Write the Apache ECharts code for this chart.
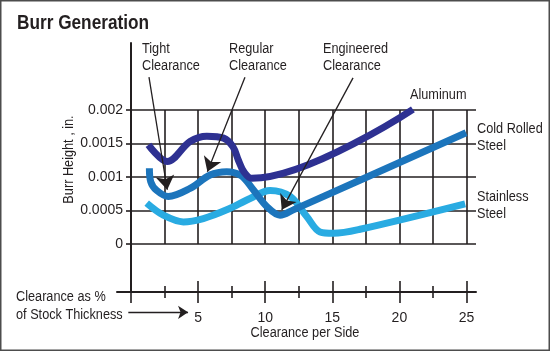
<!DOCTYPE html>
<html>
<head>
<meta charset="utf-8">
<script src="https://cdn.jsdelivr.net/npm/echarts@6/dist/echarts.min.js"></script>
<style>
html, body { margin: 0; padding: 0; background: #fff; }
#main { width: 550px; height: 351px; }
</style>
</head>
<body>
<div id="main"></div>
<script>
// burr height (in.) against clearance per side (% of stock thickness)
var aluminum = [[1.3, 0.00148], [2.7, 0.00123], [4.4, 0.00153], [5.65, 0.00161], [6.9, 0.00158],
    [7.6, 0.00145], [8.0, 0.00125], [8.4, 0.00108], [9.0, 0.00098], [21.0, 0.00201]];
var coldRolled = [[1.37, 0.00113], [1.47, 0.00093], [1.91, 0.0008], [2.78, 0.00071], [4.4, 0.00083],
    [5.89, 0.00103], [7.13, 0.00108], [8.2, 0.00102], [9.11, 0.00081], [10.11, 0.00056],
    [11.1, 0.00043], [12.09, 0.00051], [24.96, 0.00166]];
var stainless = [[1.17, 0.00061], [2.41, 0.00043], [3.9, 0.00033], [5.39, 0.00038], [7.13, 0.00051],
    [8.87, 0.00068], [10.36, 0.0008], [11.85, 0.00071], [13.09, 0.00041], [14.08, 0.00018],
    [15.07, 0.00016], [17.06, 0.00022], [24.89, 0.0006]];

var yTicks = [0, 0.0005, 0.001, 0.0015, 0.002];
var xTicks = [5, 10, 15, 20, 25];

// pointer arrows, in data units
var arrows = [
    { from: [1.34, 0.00249], to: [2.7, 0.00081], size: 14 },   // tight
    { from: [8.49, 0.00249], to: [5.69, 0.00108], size: 14 },  // regular
    { from: [16.54, 0.00248], to: [11.23, 0.00051], size: 14 }, // engineered
    { from: [-0.2, -0.00102], to: [4.25, -0.00102], size: 10 }  // stock thickness
];

var ink = '#231f20';
var font = "'Liberation Sans', Arial, sans-serif";
var squeeze = 0.82; // condensed look

function txt(text, x, y, size, extra) {
    extra = extra || {};
    var el = {
        type: 'text', x: x, y: y, silent: true, scaleX: squeeze,
        style: { text: text, font: (extra.bold ? 'bold ' : '') + size + 'px ' + font, fill: ink,
            verticalAlign: 'middle', textVerticalAlign: 'middle', lineHeight: 17.5,
            align: extra.align || 'left', textAlign: extra.align || 'left' }
    };
    if (extra.rotation) el.rotation = extra.rotation;
    return el;
}

var myChart = echarts.init(document.getElementById('main'));

var option = {
    animation: false,
    grid: [
        { left: 131, top: 110, width: 345, height: 134 },   // plot
        { left: 131, top: 43, width: 335.5, height: 249 },  // frame
        { left: 117, top: 43, width: 359, height: 249 }     // x axis line
    ],
    xAxis: [
        { gridIndex: 0, type: 'value', min: 0, max: 25.7, interval: 2.5,
            axisLine: { show: false }, axisTick: { show: false }, axisLabel: { show: false },
            splitLine: { show: true, showMaxLine: false, lineStyle: { color: ink, width: 1.6 } } },
        { gridIndex: 1, type: 'value', position: 'bottom', min: 0, max: 25, interval: 5,
            axisLine: { show: false },
            axisTick: { show: true, length: 11, inside: false, lineStyle: { color: ink, width: 1.6 } },
            minorTick: { show: true, splitNumber: 2, length: 6, lineStyle: { color: ink, width: 1.6 } },
            axisLabel: { show: true, margin: 19, color: ink, fontSize: 14, fontFamily: font,
                formatter: function (v) { return xTicks.indexOf(v) >= 0 ? String(v) : ''; } },
            splitLine: { show: false } },
        { gridIndex: 1, type: 'value', position: 'bottom', min: 0, max: 25, interval: 5,
            axisLine: { show: false },
            axisTick: { show: true, length: 11, inside: true, lineStyle: { color: ink, width: 1.6 } },
            minorTick: { show: true, splitNumber: 2, length: 6, lineStyle: { color: ink, width: 1.6 } },
            axisLabel: { show: false }, splitLine: { show: false } },
        { gridIndex: 2, type: 'value', position: 'bottom', min: 0, max: 1,
            axisLine: { show: true, onZero: false, lineStyle: { color: ink, width: 2 } },
            axisTick: { show: false }, axisLabel: { show: false }, splitLine: { show: false } }
    ],
    yAxis: [
        { gridIndex: 0, type: 'value', min: 0, max: 0.002, interval: 0.0005,
            axisLine: { show: false },
            axisTick: { show: true, length: 5, lineStyle: { color: ink, width: 1.6 } },
            axisLabel: { show: true, margin: 8, color: ink, fontSize: 14, fontFamily: font,
                padding: [4, 0, 0, 0],
                formatter: function (v) {
                    for (var i = 0; i < yTicks.length; i++) {
                        if (Math.abs(yTicks[i] - v) < 1e-9) return String(yTicks[i]);
                    }
                    return '';
                } },
            splitLine: { show: true, lineStyle: { color: ink, width: 1.6 } } },
        { gridIndex: 1, type: 'value', min: 0, max: 1,
            axisLine: { show: true, lineStyle: { color: ink, width: 2 } },
            axisTick: { show: false }, axisLabel: { show: false }, splitLine: { show: false } },
        { gridIndex: 2, type: 'value', show: false, min: 0, max: 1 }
    ],
    series: [
        { name: 'Stainless Steel', type: 'line', xAxisIndex: 0, yAxisIndex: 0, data: stainless,
            smooth: 0.35, symbol: 'none', clip: false, lineStyle: { color: '#29abe2', width: 7, cap: 'butt' } },
        { name: 'Cold Rolled Steel', type: 'line', xAxisIndex: 0, yAxisIndex: 0, data: coldRolled,
            smooth: 0.35, symbol: 'none', clip: false, lineStyle: { color: '#1c75bc', width: 7, cap: 'butt' } },
        { id: 'alu', name: 'Aluminum', type: 'line', xAxisIndex: 0, yAxisIndex: 0, data: aluminum,
            smooth: 0.35, symbol: 'none', clip: false, lineStyle: { color: '#2e3192', width: 7, cap: 'butt' } }
    ],
    graphic: [
        { type: 'rect', silent: true, shape: { x: 0.75, y: 0.75, width: 548.5, height: 349.5 },
            style: { fill: 'none', stroke: '#4d4d4d', lineWidth: 1.5 } },
        txt('Burr Generation', 17, 23.5, 21, { bold: true }),
        txt('Tight\nClearance', 142, 57, 15.5),
        txt('Regular\nClearance', 229, 57, 15.5),
        txt('Engineered\nClearance', 323, 57, 15.5),
        txt('Aluminum', 410, 94.5, 15.5),
        txt('Cold Rolled\nSteel', 477, 137, 15.5),
        txt('Stainless\nSteel', 477, 205, 15.5),
        txt('Burr Height , in.', 69, 159.5, 15.5, { align: 'center', rotation: Math.PI / 2 }),
        txt('Clearance as %\nof Stock Thickness', 16, 305.5, 15.5),
        txt('Clearance per Side', 305, 333, 15.5, { align: 'center' })
    ]
};
myChart.setOption(option);

// arrows: data units to pixels through the plot grid's scales
var arrowLines = arrows.map(function (a) {
    var p0 = myChart.convertToPixel({ gridIndex: 0 }, a.from);
    var p1 = myChart.convertToPixel({ gridIndex: 0 }, a.to);
    return [{ x: p0[0], y: p0[1], symbol: 'none' },
        { x: p1[0], y: p1[1], symbol: 'arrow', symbolSize: a.size }];
});
myChart.setOption({
    series: [{ id: 'alu', markLine: { silent: true, animation: false,
        symbol: ['none', 'arrow'], symbolSize: [0, 14],
        label: { show: false }, emphasis: { disabled: true },
        lineStyle: { color: ink, width: 1.3, type: 'solid' },
        data: arrowLines } }]
});
</script>
</body>
</html>
